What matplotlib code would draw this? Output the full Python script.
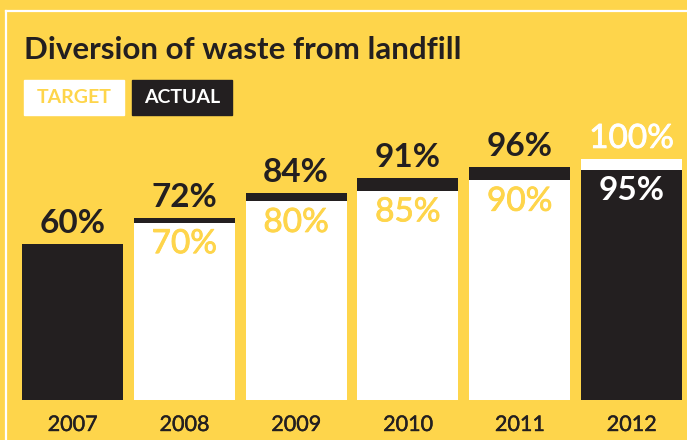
import numpy as np
import matplotlib
matplotlib.use("Agg")
import matplotlib.pyplot as plt
import matplotlib.patheffects as pe
from matplotlib.lines import Line2D

years = ["2007", "2008", "2009", "2010", "2011", "2012"]
target = [np.nan, 70, 80, 85, 90, 100]
actual = [60, 72, 84, 91, 96, 95]

YELLOW = "#fed54b"
DARK = "#231f20"
WHITE = "#ffffff"
BASE = -13.7  # bars start a little below zero on this graphic

plt.rcParams["font.family"] = ["Lato", "DejaVu Sans"]

fig = plt.figure(figsize=(6.87, 4.40), dpi=100, facecolor=YELLOW)
ax = fig.add_axes([0, 40 / 440, 1, 241 / 440])
ax.set_facecolor(YELLOW)
ax.axis("off")

x = np.arange(len(years))
w = 0.903


def label(xi, v, dy, color, weight, stroke=0):
    effects = [pe.withStroke(linewidth=stroke, foreground=color)] if stroke else None
    ax.annotate(f"{v}%", (xi, v), xytext=(0, dy), textcoords="offset points",
                ha="center", va="baseline", fontsize=24, fontweight=weight,
                color=color, zorder=5, annotation_clip=False, path_effects=effects)


for i in range(len(years)):
    a, t = actual[i], target[i]
    has_t = not np.isnan(t)
    # the taller bar goes behind, the shorter one in front
    za, zt = (2, 3) if (not has_t or a >= t) else (3, 2)
    ax.bar(x[i], a - BASE, bottom=BASE, width=w, color=DARK, zorder=za)
    if has_t:
        ax.bar(x[i], t - BASE, bottom=BASE, width=w, color=WHITE, zorder=zt)

    if not has_t or a >= t:
        label(x[i], a, 8, DARK, "bold")
        if has_t:
            label(x[i], t, -22, YELLOW, "normal", stroke=0.6)
    else:
        label(x[i], t, 8, WHITE, "normal", stroke=0.6)
        label(x[i], a, -22, WHITE, "bold")

    ax.annotate(years[i], (x[i], BASE), xytext=(0, -18), textcoords="offset points",
                ha="center", va="center", fontsize=15.5, color=DARK,
                annotation_clip=False,
                path_effects=[pe.withStroke(linewidth=0.3, foreground=DARK)])

ax.set_xlim(-72.5 / 111.8, (687 - 72.5) / 111.8)
ax.set_ylim(BASE, 100)

# title and legend chips
fig.text(24 / 687, 1 - 59 / 440, "Diversion of waste from landfill", fontsize=22.5,
         fontweight="bold", color=DARK, ha="left", va="baseline")
fig.patches.append(plt.Rectangle((24 / 687, 1 - 115 / 440), 100 / 687, 35 / 440,
                                 transform=fig.transFigure, color=WHITE))
fig.patches.append(plt.Rectangle((132 / 687, 1 - 115 / 440), 100 / 687, 35 / 440,
                                 transform=fig.transFigure, color=DARK))
fig.text(74 / 687, 1 - 97.5 / 440, "TARGET", fontsize=14, fontweight="bold",
         color=YELLOW, ha="center", va="center")
fig.text(182 / 687, 1 - 97.5 / 440, "ACTUAL", fontsize=14, fontweight="bold",
         color=WHITE, ha="center", va="center")

# thin white frame along the top and left
fig.add_artist(Line2D([6 / 687, 1], [1 - 11 / 440, 1 - 11 / 440], color=WHITE, lw=1.6))
fig.add_artist(Line2D([6 / 687, 6 / 687], [0, 1 - 11 / 440], color=WHITE, lw=1.6))

fig.savefig("out.png", dpi=100, facecolor=YELLOW)
